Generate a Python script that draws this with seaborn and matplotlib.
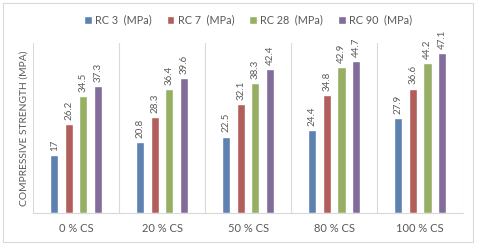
import pandas as pd
import matplotlib
matplotlib.use("Agg")
import matplotlib.pyplot as plt
import seaborn as sns
from matplotlib.patches import Rectangle

mixes = ["0 % CS", "20 % CS", "50 % CS", "80 % CS", "100 % CS"]
series = ["RC 3  (MPa)", "RC 7  (MPa)", "RC 28  (MPa)", "RC 90  (MPa)"]
rc3 = [17, 20.8, 22.5, 24.4, 27.9]
rc7 = [26.2, 28.3, 32.1, 34.8, 36.6]
rc28 = [34.5, 36.4, 38.3, 42.9, 44.2]
rc90 = [37.3, 39.6, 42.4, 44.7, 47.1]
colors = ["#4F81BD", "#C0504D", "#9BBB59", "#8064A2"]

rows = []
for name, vals in zip(series, [rc3, rc7, rc28, rc90]):
    for m, v in zip(mixes, vals):
        rows.append({"mix": m, "series": name, "value": v})
df = pd.DataFrame(rows)

sns.set_style("white")
plt.rcParams["font.family"] = ["Lato", "DejaVu Sans"]

fig = plt.figure(figsize=(4.8, 2.45), dpi=100)
ax = fig.add_axes([0.069, 0.131, 0.896, 0.693])

sns.barplot(data=df, x="mix", y="value", hue="series", palette=colors,
            width=0.68, gap=0.45, ax=ax, legend=True)

for c in ax.containers:
    ax.bar_label(c, labels=[f"{v:g}" for v in c.datavalues], rotation=90,
                 padding=3, fontsize=7, color="#595959")

ax.set_ylim(0, 50)
ax.set_xlim(-0.5, 4.5)
ax.set_yticks([])
ax.set_xticks(range(5))
ax.set_xticklabels(mixes, fontsize=8, color="#595959")
ax.set_xticks([i - 0.5 for i in range(6)], minor=True)
ax.tick_params(axis="x", which="both", length=0, pad=7)
ax.grid(True, axis="x", which="minor", color="#D9D9D9", linewidth=0.8)
ax.grid(False, axis="x", which="major")
ax.set_xlabel("")
ax.set_ylabel("COMPRESSIVE STRENGTH (MPA)", fontsize=7.4, color="#595959", labelpad=3)
for s in ["top", "right", "left"]:
    ax.spines[s].set_visible(False)
ax.spines["bottom"].set_color("#D9D9D9")

ax.legend(loc="center", bbox_to_anchor=(0.5, 1.135), ncol=4, frameon=False,
          fontsize=7.8, handlelength=0.7, handleheight=0.7, handletextpad=0.3,
          columnspacing=1.4, labelcolor="#595959")

fig.patches.append(Rectangle((3 / 480, 3 / 245), 470 / 480, 239 / 245,
                             transform=fig.transFigure, fill=False,
                             edgecolor="#D9D9D9", linewidth=0.8))

fig.savefig("out.png", dpi=100)
